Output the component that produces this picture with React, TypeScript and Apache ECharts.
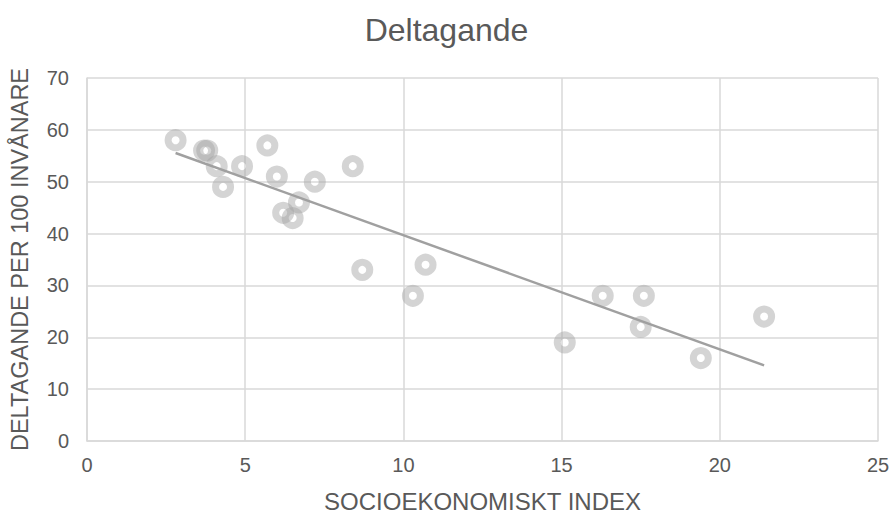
import React, { useEffect, useRef } from "react";
import * as echarts from "echarts";

const socioIndex = [2.8, 3.7, 3.8, 4.1, 4.3, 4.9, 5.7, 6.0, 6.2, 6.5, 6.7, 7.2, 8.4, 8.7, 10.3, 10.7, 15.1, 16.3, 17.6, 17.5, 19.4, 21.4];
const participation = [58, 56, 56, 53, 49, 53, 57, 51, 44, 43, 46, 50, 53, 33, 28, 34, 19, 28, 28, 22, 16, 24];

const titleText = "Deltagande";
const xName = "SOCIOEKONOMISKT INDEX";
const yName = "DELTAGANDE PER 100 INVÅNARE";

function trend() {
  const n = socioIndex.length;
  const mx = socioIndex.reduce((a, b) => a + b, 0) / n;
  const my = participation.reduce((a, b) => a + b, 0) / n;
  let sxy = 0, sxx = 0;
  for (let i = 0; i < n; i++) {
    sxy += (socioIndex[i] - mx) * (participation[i] - my);
    sxx += (socioIndex[i] - mx) ** 2;
  }
  const b = sxy / sxx;
  const a = my - b * mx;
  const x0 = Math.min(...socioIndex);
  const x1 = Math.max(...socioIndex);
  return [[x0, a + b * x0], [x1, a + b * x1]];
}

export default function App() {
  const ref = useRef<HTMLDivElement>(null);
  useEffect(() => {
    const chart = echarts.init(ref.current!, null, { renderer: "svg" });
    const font = "Liberation Sans, Arial, sans-serif";
    chart.setOption({
      animation: false,
      backgroundColor: "#ffffff",
      title: {
        text: titleText,
        left: "center",
        top: 9,
        textStyle: { fontFamily: font, fontSize: 32, fontWeight: "normal", color: "#595959" },
      },
      grid: { left: 87, right: 15, top: 78, bottom: 70 },
      xAxis: {
        type: "value",
        min: 0,
        max: 25,
        interval: 5,
        name: xName,
        nameLocation: "middle",
        nameGap: 48,
        nameTextStyle: { fontFamily: font, fontSize: 24, color: "#595959" },
        axisLine: { show: true, lineStyle: { color: "#d9d9d9", width: 1.5 } },
        axisTick: { show: false },
        axisLabel: { fontFamily: font, fontSize: 20, color: "#595959", margin: 14 },
        splitLine: { show: true, lineStyle: { color: "#d9d9d9", width: 1.5 } },
      },
      yAxis: {
        type: "value",
        min: 0,
        max: 70,
        interval: 10,
        name: yName,
        nameLocation: "middle",
        nameGap: 55,
        nameTextStyle: { fontFamily: font, fontSize: 23.5, color: "#595959" },
        axisLine: { show: true, lineStyle: { color: "#d9d9d9", width: 1.5 } },
        axisTick: { show: false },
        axisLabel: { fontFamily: font, fontSize: 20, color: "#595959", margin: 18 },
        splitLine: { show: true, lineStyle: { color: "#d9d9d9", width: 1.5 } },
      },
      series: [
        {
          type: "scatter",
          data: socioIndex.map((x, i) => [x, participation[i]]),
          symbol: "circle",
          symbolSize: 15,
          itemStyle: {
            color: "rgba(255,255,255,0)",
            borderColor: "rgba(165,165,165,0.6)",
            borderWidth: 7,
          },
          z: 2,
        },
        {
          type: "line",
          data: trend(),
          symbol: "none",
          lineStyle: { color: "#a0a0a0", width: 2.5 },
          z: 3,
        },
      ],
    });
    return () => chart.dispose();
  }, []);
  return <div ref={ref} style={{ width: 893, height: 518, position: "absolute", left: 0, top: 0 }} />;
}
